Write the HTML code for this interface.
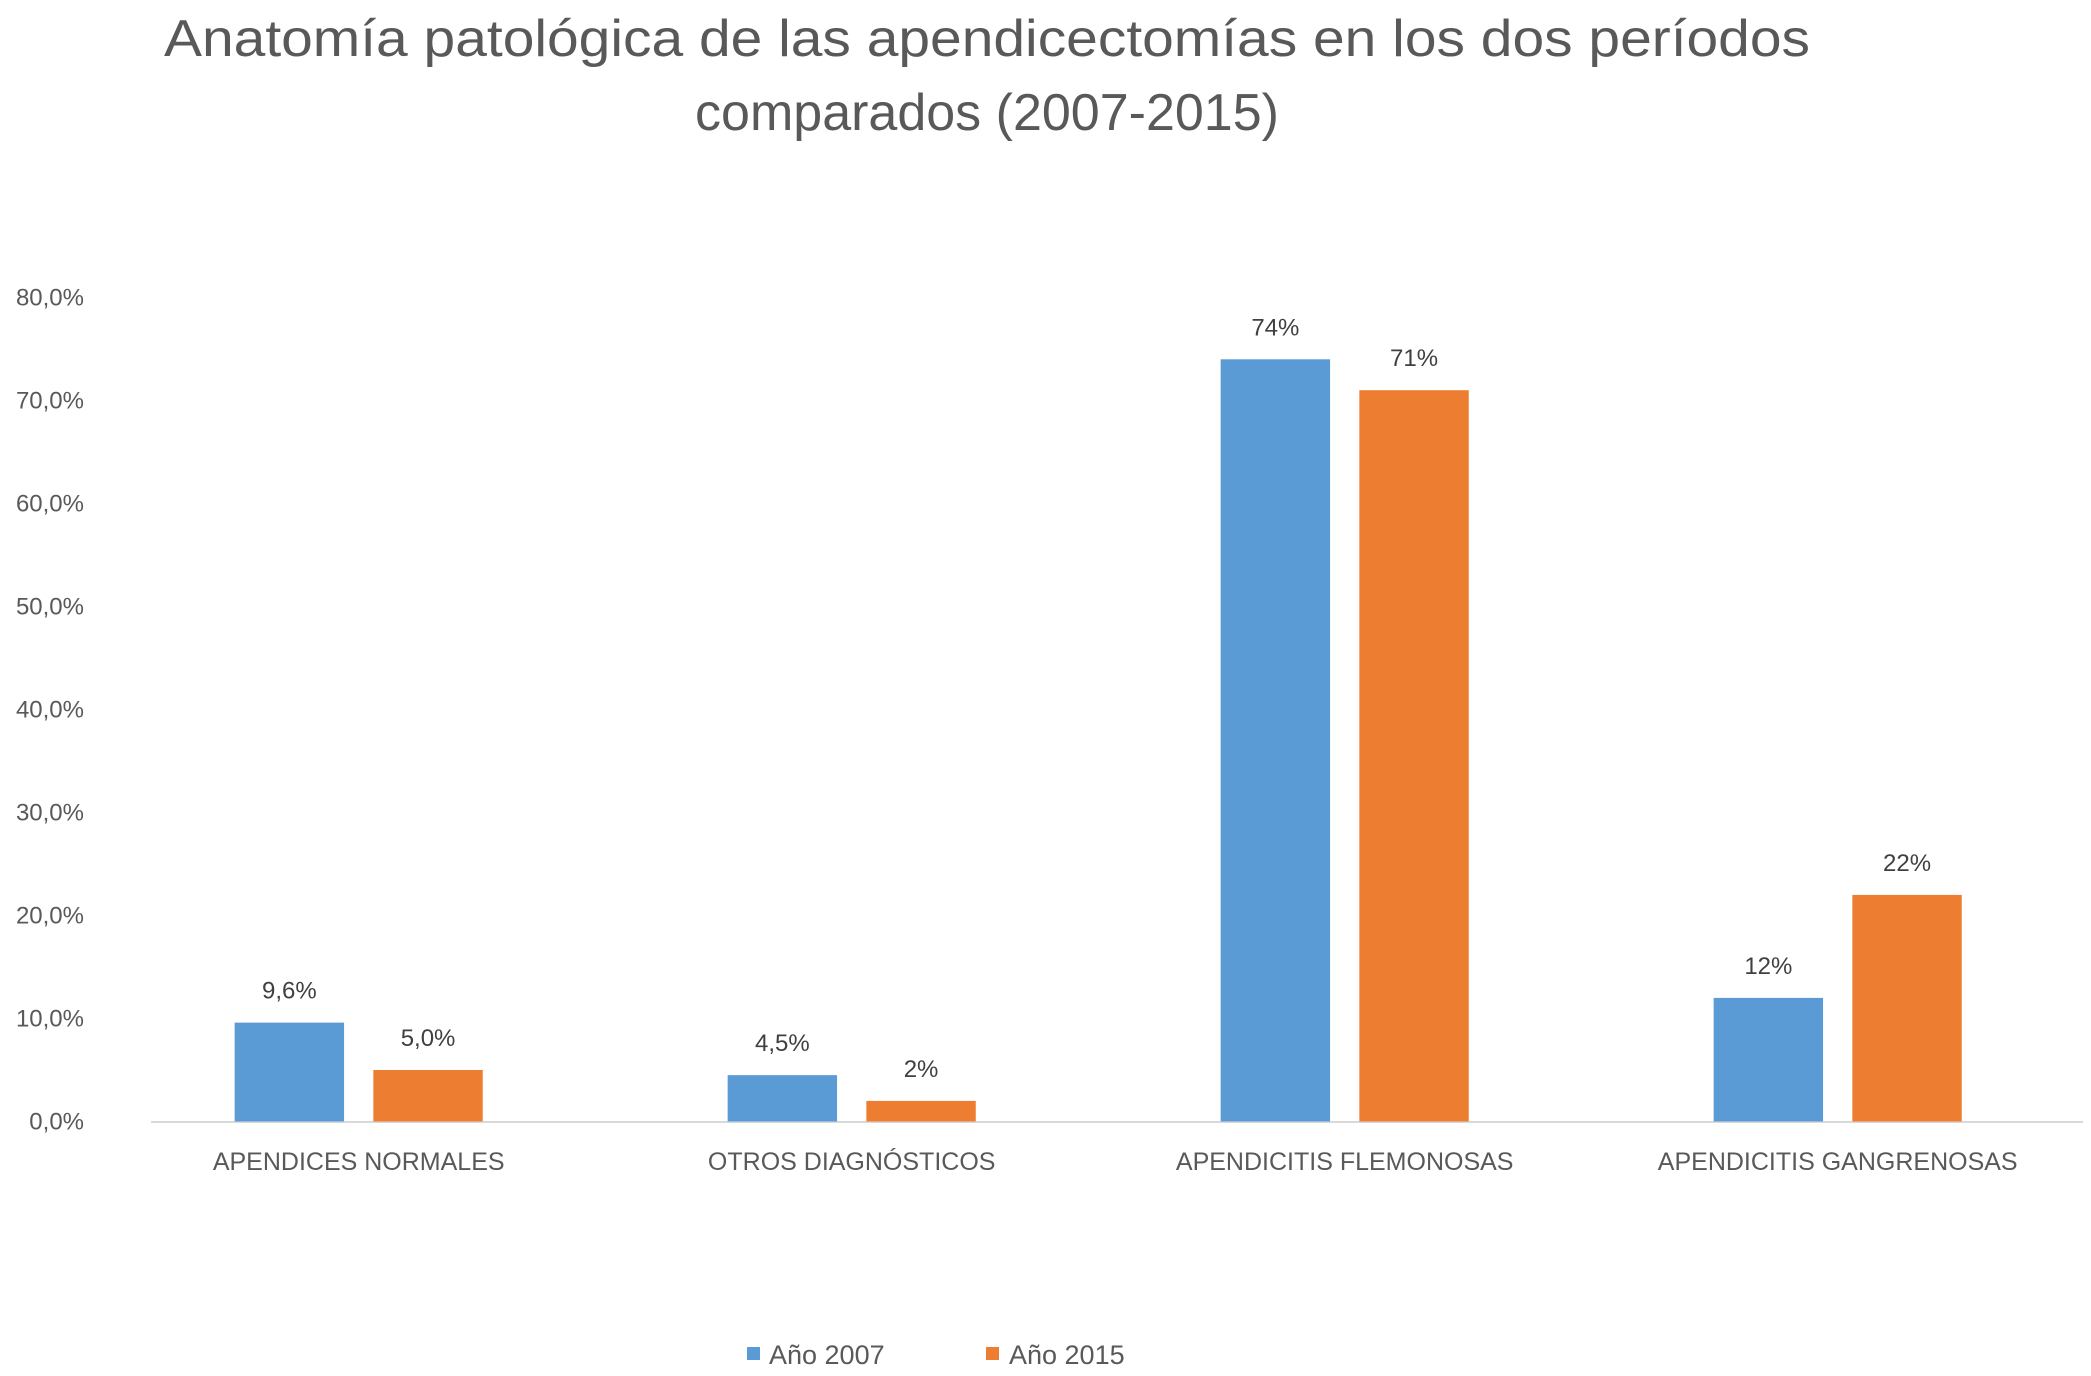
<!DOCTYPE html>
<html><head><meta charset="utf-8"><style>
html,body{margin:0;padding:0;background:#fff;}
svg{display:block;font-family:"Liberation Sans",sans-serif;}
</style></head><body>
<svg id="chart" width="2091" height="1376" viewBox="0 0 2091 1376" xmlns="http://www.w3.org/2000/svg">
<rect width="2091" height="1376" fill="#fff"/>
<text x="987" y="56" font-size="52" fill="#595959" text-anchor="middle" textLength="1646" lengthAdjust="spacingAndGlyphs">Anatomía patológica de las apendicectomías en los dos períodos</text>
<text x="987" y="130" font-size="52" fill="#595959" text-anchor="middle">comparados (2007-2015)</text>
<line x1="151" y1="1122" x2="2083" y2="1122" stroke="#d9d9d9" stroke-width="2"/>
<g id="yticks"></g>
<g id="bars"></g>
<g id="legend">
<rect x="747" y="1347" width="13" height="13" fill="#5B9BD5"/>
<text x="769" y="1364" font-size="27" fill="#595959">Año 2007</text>
<rect x="986" y="1347" width="13" height="13" fill="#ED7D31"/>
<text x="1009" y="1364" font-size="27" fill="#595959">Año 2015</text>
</g>
</svg>
<script>
const categories = ["APENDICES NORMALES","OTROS DIAGNÓSTICOS","APENDICITIS FLEMONOSAS","APENDICITIS GANGRENOSAS"];
const series2007 = [9.6, 4.5, 74, 12];
const series2015 = [5.0, 2, 71, 22];
const labels2007 = ["9,6%","4,5%","74%","12%"];
const labels2015 = ["5,0%","2%","71%","22%"];
const yTicks = [0,10,20,30,40,50,60,70,80];
const yTickLabels = ["0,0%","10,0%","20,0%","30,0%","40,0%","50,0%","60,0%","70,0%","80,0%"];

const NS = "http://www.w3.org/2000/svg";
const y0 = 1121.5, perUnit = 10.3;
function yScale(v){ return y0 - v*perUnit; }
function xCenter(i){ return 358.7 + i*493; }
const barW = 109.4, gap = 29.3;

const yg = document.getElementById('yticks');
yTicks.forEach((t,i)=>{
  const tx = document.createElementNS(NS,'text');
  tx.setAttribute('x',84); tx.setAttribute('y',yScale(t)+8);
  tx.setAttribute('font-size','24'); tx.setAttribute('fill','#595959');
  tx.setAttribute('text-anchor','end');
  tx.textContent = yTickLabels[i];
  
  
  yg.appendChild(tx);
});

const bg = document.getElementById('bars');
categories.forEach((c,i)=>{
  const cx = xCenter(i);
  [[series2007,labels2007,'#5B9BD5',cx-gap/2-barW,'2007'],[series2015,labels2015,'#ED7D31',cx+gap/2,'2015']].forEach(s=>{
    const v = s[0][i];
    const r = document.createElementNS(NS,'rect');
    r.setAttribute('x',s[3]); r.setAttribute('y',yScale(v));
    r.setAttribute('width',barW); r.setAttribute('height',y0-yScale(v));
    r.setAttribute('fill',s[2]);
    
    
    bg.appendChild(r);
    const l = document.createElementNS(NS,'text');
    l.setAttribute('x',s[3]+barW/2); l.setAttribute('y',yScale(v)-24);
    l.setAttribute('font-size','24'); l.setAttribute('fill','#404040');
    l.setAttribute('text-anchor','middle');
    l.textContent = s[1][i];
    
    
    bg.appendChild(l);
  });
  const ct = document.createElementNS(NS,'text');
  ct.setAttribute('x',cx); ct.setAttribute('y',1170);
  ct.setAttribute('font-size','25'); ct.setAttribute('fill','#595959');
  ct.setAttribute('text-anchor','middle');
  ct.textContent = c;
  
  
  bg.appendChild(ct);
});
</script>
</body></html>
